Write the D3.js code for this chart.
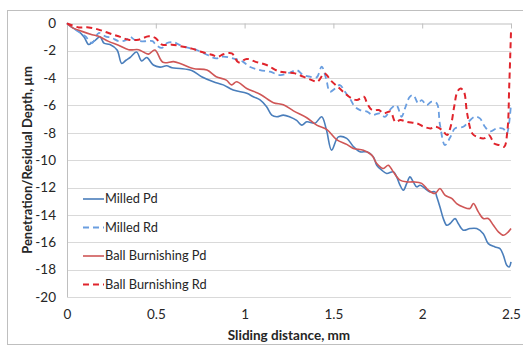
<!DOCTYPE html>
<html>
<head>
<meta charset="utf-8">
<script src="https://cdn.jsdelivr.net/npm/d3@7"></script>
<style>
  body { margin: 0; background: #fff; }
  svg { display: block; font-family: Lato, "Open Sans", sans-serif; }
</style>
</head>
<body>
<script>
(function(){
'use strict';

// values: [sliding distance (mm), depth (um)]
var milledPd = [
	[0,0],[0.028,-0.3],[0.066,-0.59],[0.096,-1.0],[0.122,-1.55],[0.141,-1.4],[0.163,-1.2],[0.186,-0.98],
	[0.208,-1.45],[0.242,-1.55],[0.282,-1.95],[0.308,-2.93],[0.332,-2.7],[0.355,-2.5],[0.392,-2.1],
	[0.42,-2.75],[0.449,-2.5],[0.486,-3.05],[0.524,-3.2],[0.561,-3.1],[0.591,-3.25],[0.636,-3.3],
	[0.702,-3.45],[0.758,-3.9],[0.824,-4.27],[0.88,-4.5],[0.936,-4.88],[1.012,-5.12],[1.049,-5.37],
	[1.087,-5.6],[1.124,-6.1],[1.153,-6.71],[1.181,-6.83],[1.218,-6.71],[1.256,-6.85],[1.293,-7.1],
	[1.322,-7.44],[1.35,-7.2],[1.396,-7.3],[1.434,-6.83],[1.461,-7.8],[1.49,-9.27],[1.528,-8.3],
	[1.575,-8.41],[1.612,-9.0],[1.65,-9.39],[1.688,-9.39],[1.725,-9.76],[1.744,-10.37],[1.772,-10.73],
	[1.8,-10.97],[1.837,-10.85],[1.856,-11.22],[1.875,-11.83],[1.894,-12.2],[1.913,-11.7],[1.931,-11.22],
	[1.95,-11.59],[1.969,-11.95],[1.988,-11.83],[2.016,-12.07],[2.044,-12.32],[2.072,-12.32],[2.082,-12.68],
	[2.1,-13.42],[2.119,-14.27],[2.138,-14.76],[2.157,-14.63],[2.185,-14.27],[2.203,-14.63],[2.231,-15.12],
	[2.269,-15.0],[2.307,-15.0],[2.344,-15.37],[2.372,-16.1],[2.41,-16.34],[2.438,-16.46],[2.457,-16.95],
	[2.476,-17.68],[2.49,-17.8],[2.5,-17.44]
];

var milledRd = [
	[0,0],[0.047,-0.46],[0.103,-0.95],[0.141,-1.44],[0.178,-0.71],[0.216,-0.95],[0.253,-1.07],[0.29,-1.3],
	[0.328,-1.25],[0.353,-0.98],[0.38,-1.2],[0.422,-1.32],[0.45,-1.3],[0.482,-1.3],[0.5,-1.56],[0.534,-1.8],
	[0.563,-1.44],[0.6,-1.38],[0.637,-1.6],[0.694,-1.83],[0.73,-1.95],[0.788,-2.3],[0.84,-2.56],[0.878,-2.44],
	[0.934,-2.56],[0.99,-2.8],[1.027,-3.17],[1.087,-3.42],[1.143,-3.54],[1.2,-3.78],[1.256,-3.6],[1.293,-3.42],
	[1.33,-3.78],[1.368,-3.9],[1.406,-3.95],[1.434,-3.17],[1.46,-4.1],[1.48,-5.0],[1.51,-4.76],[1.537,-4.51],
	[1.565,-5.0],[1.593,-5.5],[1.621,-6.1],[1.65,-6.34],[1.69,-6.46],[1.72,-6.7],[1.76,-6.58],[1.79,-6.83],
	[1.827,-6.2],[1.855,-5.98],[1.884,-6.83],[1.903,-6.22],[1.93,-5.37],[1.95,-5.24],[1.978,-5.85],
	[1.997,-5.61],[2.025,-5.98],[2.053,-5.73],[2.082,-5.85],[2.1,-7.4],[2.128,-8.9],[2.157,-8.35],
	[2.185,-7.68],[2.231,-7.56],[2.26,-7.2],[2.297,-6.83],[2.325,-6.95],[2.353,-7.56],[2.382,-7.9],
	[2.419,-7.68],[2.457,-7.7],[2.476,-8.05],[2.5,-5.9]
];

var ballPd = [
	[0,0],[0.028,-0.3],[0.084,-0.59],[0.141,-0.83],[0.178,-0.95],[0.234,-1.32],[0.29,-1.6],[0.347,-1.93],
	[0.403,-1.93],[0.43,-2.1],[0.459,-2.25],[0.495,-1.95],[0.54,-2.85],[0.6,-2.8],[0.637,-2.93],[0.71,-3.3],
	[0.788,-3.42],[0.84,-3.9],[0.897,-4.15],[0.927,-4.5],[0.955,-4.27],[1.012,-4.76],[1.087,-5.18],
	[1.162,-5.8],[1.218,-5.95],[1.275,-6.4],[1.35,-6.9],[1.406,-7.44],[1.462,-7.75],[1.518,-8.5],
	[1.575,-8.85],[1.612,-9.14],[1.669,-9.27],[1.716,-9.63],[1.744,-10.24],[1.781,-10.61],[1.809,-10.37],
	[1.837,-10.85],[1.875,-11.46],[1.913,-11.59],[1.95,-11.59],[1.997,-11.7],[2.035,-12.2],[2.072,-12.44],
	[2.1,-12.07],[2.128,-12.56],[2.166,-12.8],[2.194,-13.17],[2.231,-13.42],[2.269,-13.53],[2.288,-13.17],
	[2.316,-13.78],[2.344,-14.27],[2.372,-14.27],[2.401,-14.76],[2.429,-15.24],[2.457,-15.49],
	[2.485,-15.24],[2.5,-15.0]
];

var ballRd = [
	[0,0],[0.066,-0.3],[0.122,-0.3],[0.178,-0.46],[0.234,-0.71],[0.29,-0.95],[0.347,-1.2],[0.403,-1.2],
	[0.46,-0.95],[0.497,-1.07],[0.535,-1.56],[0.59,-1.56],[0.647,-1.69],[0.703,-1.85],[0.76,-2.1],
	[0.815,-2.3],[0.85,-2.44],[0.88,-2.26],[0.928,-2.2],[0.965,-2.85],[1.012,-2.6],[1.059,-2.8],
	[1.124,-3.05],[1.19,-3.5],[1.237,-3.6],[1.284,-3.66],[1.33,-3.9],[1.378,-4.15],[1.41,-4.27],
	[1.45,-3.66],[1.487,-4.2],[1.528,-4.68],[1.565,-5.12],[1.603,-5.49],[1.632,-5.61],[1.672,-5.37],
	[1.69,-5.85],[1.718,-6.34],[1.756,-6.34],[1.784,-6.58],[1.821,-6.46],[1.849,-7.2],[1.877,-7.07],
	[1.915,-7.2],[1.971,-7.32],[2.009,-7.56],[2.047,-7.68],[2.075,-7.56],[2.112,-7.8],[2.14,-8.17],
	[2.16,-7.56],[2.18,-6.1],[2.198,-5.0],[2.216,-4.76],[2.235,-5.0],[2.253,-6.58],[2.282,-8.05],
	[2.31,-8.3],[2.348,-8.41],[2.376,-8.17],[2.405,-8.78],[2.433,-8.9],[2.461,-9.03],[2.48,-7.8],
	[2.49,-4.6],[2.5,-0.6]
];

var seriesNames = ['Milled Pd', 'Milled Rd', 'Ball Burnishing Pd', 'Ball Burnishing Rd'];
var xTicks = [0, 0.5, 1, 1.5, 2, 2.5];
var yTicks = [0, -2, -4, -6, -8, -10, -12, -14, -16, -18, -20];

var width = 523;
var height = 345;

var series = [
	{name: seriesNames[0], values: milledPd, color: '#4a7ebb', dash: null, w: 1.6},
	{name: seriesNames[1], values: milledRd, color: '#6a9ee0', dash: '6,4', w: 1.8},
	{name: seriesNames[2], values: ballPd, color: '#cf5656', dash: null, w: 1.6},
	{name: seriesNames[3], values: ballRd, color: '#e0242c', dash: '6,4', w: 2}
];

var plain = function(d){ return String(d); };

var svg = d3.select('body').append('svg')
	.attr('width', width)
	.attr('height', height);

svg.append('rect')
	.attr('x', 7.5).attr('y', 10.5)
	.attr('width', 530).attr('height', 334)
	.attr('fill', '#fff')
	.attr('stroke', '#bfbfbf');

var xScale = d3.scaleLinear().domain([0, 2.5]).range([67, 511]);
var yScale = d3.scaleLinear().domain([-20, 0]).range([297, 23.3]);

// horizontal gridlines
svg.append('g').selectAll('line')
	.data(yTicks.filter(function(d){ return d !== 0; }))
	.enter().append('line')
	.attr('x1', xScale(0)).attr('x2', xScale(2.5))
	.attr('y1', function(d){ return Math.round(yScale(d)) + 0.5; })
	.attr('y2', function(d){ return Math.round(yScale(d)) + 0.5; })
	.attr('stroke', '#d9d9d9');

// y axis
var yAxis = svg.append('g')
	.attr('transform', 'translate(' + xScale(0) + ',0)')
	.call(d3.axisLeft(yScale).tickValues(yTicks).tickFormat(plain).tickSize(0).tickPadding(11));
yAxis.select('.domain').remove();
yAxis.selectAll('text').attr('font-size', 13.5).attr('fill', '#262626').attr('font-family', 'Lato');

svg.append('line')
	.attr('x1', 67.5).attr('x2', 67.5)
	.attr('y1', yScale(0)).attr('y2', yScale(-20))
	.attr('stroke', '#bfbfbf');

// x tick labels at the bottom
var xLabels = svg.append('g')
	.attr('transform', 'translate(0,' + yScale(-20) + ')')
	.call(d3.axisBottom(xScale).tickValues(xTicks).tickFormat(plain).tickSize(0).tickPadding(12));
xLabels.select('.domain').remove();
xLabels.selectAll('text').attr('font-size', 13.5).attr('fill', '#262626').attr('font-family', 'Lato');

// x axis line crosses at y = 0 (top), ticks pointing down
var xTop = svg.append('g')
	.attr('transform', 'translate(0,' + (Math.round(yScale(0)) + 0.5) + ')')
	.call(d3.axisBottom(xScale).tickValues(xTicks).tickSize(5).tickSizeOuter(0).tickFormat(''));
xTop.select('.domain').attr('stroke', '#bfbfbf');
xTop.selectAll('.tick line').attr('stroke', '#bfbfbf');

// lines
var line = d3.line()
	.x(function(d){ return xScale(d[0]); })
	.y(function(d){ return yScale(d[1]); })
	.curve(d3.curveCatmullRom.alpha(0.5));

svg.append('g').selectAll('path')
	.data(series)
	.enter().append('path')
	.attr('d', function(d){ return line(d.values); })
	.attr('fill', 'none')
	.attr('stroke', function(d){ return d.color; })
	.attr('stroke-width', function(d){ return d.w; })
	.attr('stroke-dasharray', function(d){ return d.dash; })
	.attr('stroke-linejoin', 'round');

// legend
var legend = svg.append('g').selectAll('g')
	.data(series)
	.enter().append('g')
	.attr('transform', function(d, i){ return 'translate(83,' + (199 + i * 28.5) + ')'; });

legend.append('line')
	.attr('x1', 0).attr('x2', 21)
	.attr('stroke', function(d){ return d.color; })
	.attr('stroke-width', function(d){ return d.w; })
	.attr('stroke-dasharray', function(d){ return d.dash; });

legend.append('text')
	.attr('x', 22).attr('dy', '0.35em')
	.attr('font-size', 12.8)
	.attr('fill', '#262626')
	.text(function(d){ return d.name; });

// axis titles
svg.append('text')
	.attr('x', 289).attr('y', 340)
	.attr('text-anchor', 'middle')
	.attr('font-size', 13.5).attr('font-weight', 'bold')
	.attr('fill', '#262626')
	.text('Sliding distance, mm');

svg.append('text')
	.attr('transform', 'translate(32,160) rotate(-90)')
	.attr('text-anchor', 'middle')
	.attr('font-size', 13).attr('font-weight', 'bold')
	.attr('fill', '#262626')
	.text('Penetration/Residual Depth, µm');

})();
</script>
</body>
</html>
